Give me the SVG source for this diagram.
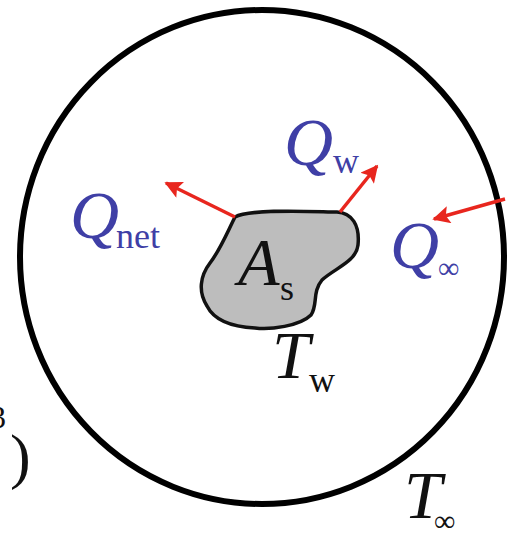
<svg xmlns="http://www.w3.org/2000/svg" width="508" height="536" viewBox="0 0 508 536">
<style>
.v{font-family:"Liberation Serif","Times New Roman",serif;font-style:italic;font-size:68px}
.s{font-family:"Liberation Serif","Times New Roman",serif;font-style:normal;font-size:36px}
.i{font-family:"Liberation Serif","Times New Roman",serif;font-size:30px}
.b{fill:#3f3fa6}
.k{fill:#111}
.arr{stroke:#e8261e;stroke-width:3.5;fill:none;marker-end:url(#ah)}
</style>
<defs>
<marker id="ah" viewBox="0 0 10 10" refX="9" refY="5" markerWidth="6.5" markerHeight="5" orient="auto" markerUnits="strokeWidth">
<path d="M0,0 L10,5 L0,10 L2,5 Z" fill="#e8261e"/>
</marker>
</defs>
<rect width="508" height="536" fill="#fff"/>
<g id="boundary">
<ellipse cx="262" cy="257" rx="242" ry="247" fill="none" stroke="#000" stroke-width="6"/>
</g>
<g id="body">
<path d="M235,217 C250,208 320,212 337,212 C352,213 360,225 358,245 C356,262 335,268 322,280 C312,292 318,305 311,315 C300,326 270,330 255,328 C235,327 215,322 207,306 C198,292 200,276 210,263 C220,250 226,235 235,217 Z" fill="#bdbdbd" stroke="#111" stroke-width="3.5"/>
<text class="v k" x="238" y="285">A</text>
<text class="s k" x="280" y="300">s</text>
</g>
<g id="connectors">
<line class="arr" x1="235" y1="217" x2="166" y2="183"/>
<line class="arr" x1="340" y1="212" x2="377" y2="166"/>
<line class="arr" x1="505" y1="199" x2="434" y2="219"/>
</g>
<g id="q-net">
<text class="v b" x="70" y="238">Q</text>
<text class="s b" x="116" y="248">net</text>
</g>
<g id="q-w">
<text class="v b" x="284" y="165">Q</text>
<text class="s b" x="333" y="173">w</text>
</g>
<g id="q-inf">
<text class="v b" x="390" y="268">Q</text>
<text class="i b" x="438" y="278">∞</text>
</g>
<g id="t-w">
<text class="v k" x="272" y="378">T</text>
<text class="s k" x="309" y="392">w</text>
</g>
<g id="t-inf">
<text class="v k" x="404" y="518">T</text>
<text class="i k" x="434" y="531">∞</text>
</g>
<g id="edge-label">
<text class="s k" x="6" y="428" text-anchor="end" style="font-size:32px">3</text>
<text class="s k" x="10" y="477" style="font-size:62px">)</text>
</g>
</svg>
